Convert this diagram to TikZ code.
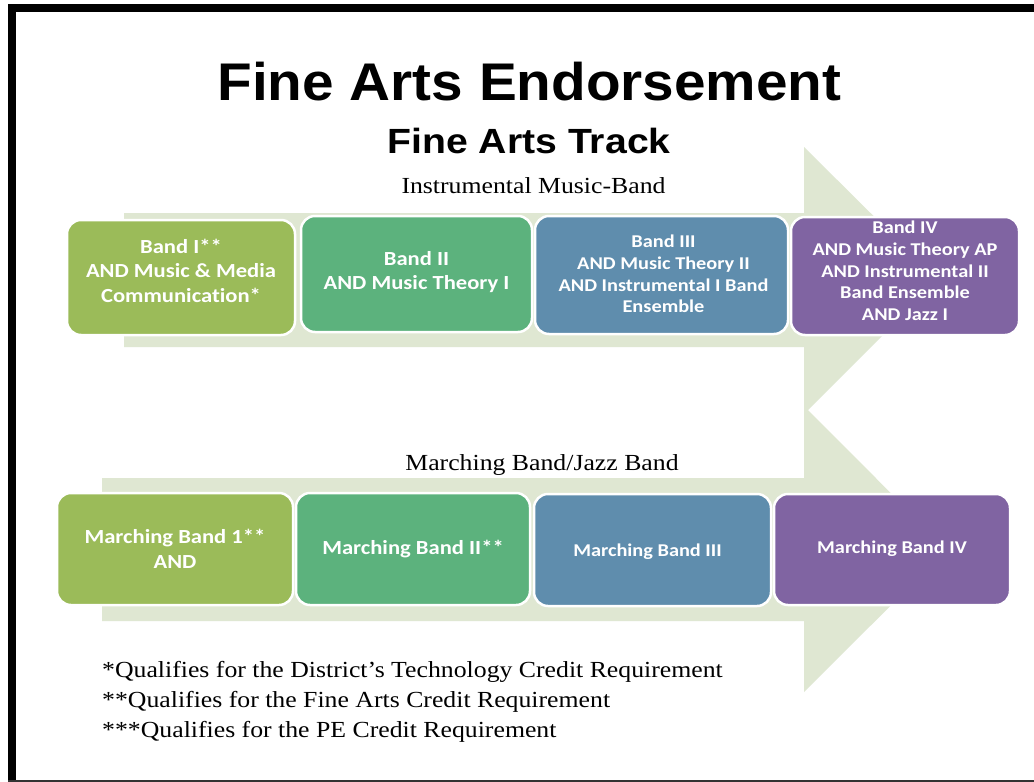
\documentclass[tikz,border=0pt]{standalone}
\usepackage{fontspec}
\setmainfont[FakeStretch=1.12]{Liberation Serif}
\newfontfamily\titlefont[FakeStretch=1.07]{Liberation Sans}
\newfontfamily\subfont[FakeStretch=1.12]{Liberation Sans}
\newfontfamily\boxfont[FakeStretch=1.13,Ligatures=NoCommon]{Carlito}
\definecolor{arrowgreen}{HTML}{DFE7D2}
\definecolor{cA}{HTML}{9BBB59}
\definecolor{cB}{HTML}{5CB27D}
\definecolor{cC}{HTML}{5F8DAD}
\definecolor{cD}{HTML}{8064A2}
\tikzset{
  stagebox/.style={draw=white, line width=2.5pt, rounded corners=14pt, inner sep=0pt},
  bigtxt/.style={text=white, align=center, inner sep=0pt, font=\boxfont\bfseries\fontsize{20}{24.5}\selectfont},
  smalltxt/.style={text=white, align=center, inner sep=0pt, font=\boxfont\bfseries\fontsize{18}{21.7}\selectfont},
  serif/.style={anchor=base, inner sep=0pt, font=\fontsize{23}{28}\selectfont},
  foot/.style={anchor=base west, inner sep=0pt, font=\fontsize{23}{28}\selectfont},
}
\begin{document}
\begin{tikzpicture}[x=1pt,y=-1pt]
\useasboundingbox (0,0) rectangle (1034,782);
\fill[white] (0,0) rectangle (1034,782);
% frame
\fill[black] (8,4) rectangle (1034,12);
\fill[black] (8,4) rectangle (16,782);
\fill[black!80] (8,780) rectangle (1034,782);
% arrows
\fill[arrowgreen] (124,213) -- (804,213) -- (804,147) -- (938,280) -- (804,414) -- (804,347) -- (124,347) -- cycle;
\fill[arrowgreen] (102,478) -- (804,478) -- (804,406) -- (947,549.5) -- (804,692) -- (804,621) -- (102,621) -- cycle;
% titles
\node[anchor=base, inner sep=0pt, font=\titlefont\bfseries\fontsize{53}{60}\selectfont] (title) at (529.5,100) {Fine Arts Endorsement};
\node[anchor=base, inner sep=0pt, font=\subfont\bfseries\fontsize{35}{40}\selectfont] (subtitle) at (529,153) {Fine Arts Track};
\node[serif] (lab1) at (533.5,193) {Instrumental Music-Band};
\node[serif] (lab2) at (542,470) {Marching Band/Jazz Band};
% upper row
\node[stagebox, fill=cA, minimum width=228pt, minimum height=115pt] (u1) at (181,277.5) {};
\node[stagebox, fill=cB, minimum width=231pt, minimum height=116pt] (u2) at (416.5,274) {};
\node[stagebox, fill=cC, minimum width=253pt, minimum height=118pt] (u3) at (661.5,275) {};
\node[stagebox, fill=cD, minimum width=228pt, minimum height=118pt] (u4) at (905,276) {};
\node[bigtxt] (u1t) at ([yshift=7pt]u1.center) {Band I**\\AND Music \& Media\\Communication*};
\node[bigtxt] (u2t) at ([yshift=2pt]u2.center) {Band II\\AND Music Theory I};
\node[smalltxt] (u3t) at ([yshift=1pt,xshift=2pt]u3.center) {Band III\\AND Music Theory II\\AND Instrumental I Band\\Ensemble};
\node[smalltxt] (u4t) at ([yshift=5pt]u4.center) {Band IV\\AND Music Theory AP\\AND Instrumental II\\Band Ensemble\\AND Jazz I};
% lower row
\node[stagebox, fill=cA, minimum width=236pt, minimum height=112pt] (l1) at (175,549) {};
\node[stagebox, fill=cB, minimum width=234pt, minimum height=112pt] (l2) at (413,549) {};
\node[stagebox, fill=cC, minimum width=237pt, minimum height=112pt] (l3) at (652.5,550) {};
\node[stagebox, fill=cD, minimum width=236pt, minimum height=111pt] (l4) at (892,549.5) {};
\node[bigtxt] (l1t) at (l1.center) {Marching Band 1**\\AND};
\node[bigtxt] (l2t) at (l2.center) {Marching Band II**};
\node[smalltxt] (l3t) at ([yshift=-2pt,xshift=-5pt]l3.center) {Marching Band III};
\node[smalltxt] (l4t) at ([yshift=1pt]l4.center) {Marching Band IV};
% footnotes
\node[foot] (f1) at (102,677) {*Qualifies for the District’s Technology Credit Requirement};
\node[foot] (f2) at (102,707) {**Qualifies for the Fine Arts Credit Requirement};
\node[foot] (f3) at (102,737) {***Qualifies for the PE Credit Requirement};
\end{tikzpicture}
\end{document}
